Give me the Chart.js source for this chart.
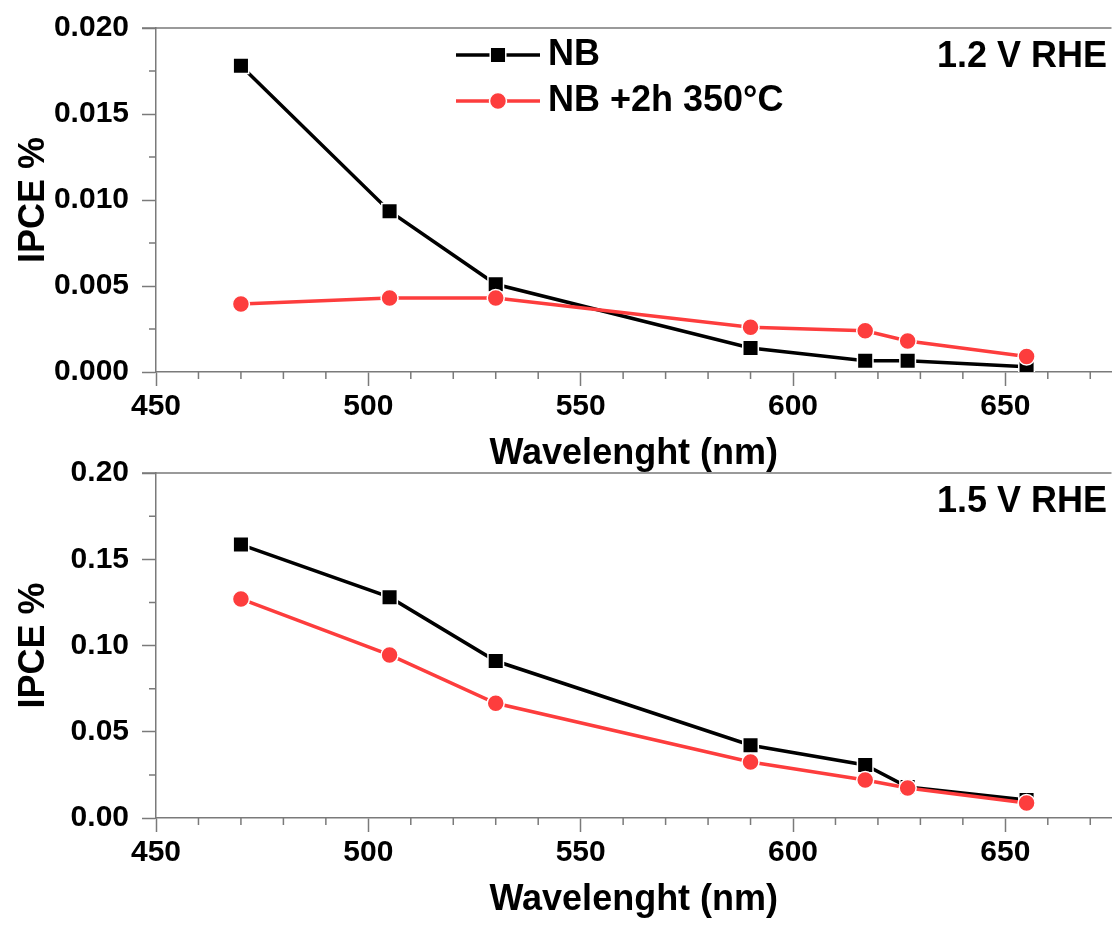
<!DOCTYPE html>
<html>
<head>
<meta charset="utf-8">
<script src="https://cdn.jsdelivr.net/npm/chart.js@4.4.0/dist/chart.umd.min.js"></script>
<style>
  html, body { margin: 0; padding: 0; background: #fff; overflow: hidden; }
  #wrap { position: relative; width: 1114px; height: 931px; overflow: hidden; }
  canvas { position: absolute; left: 0; }
  #top { top: -20px; }
  #bottom { top: 430px; }
</style>
</head>
<body>
<div id="wrap">
  <canvas id="top" width="1124" height="492"></canvas>
  <canvas id="bottom" width="1124" height="488"></canvas>
</div>
<script>
// wavelengths (nm) of the LEDs
const wavelengths = [470, 505, 530, 590, 617, 627, 655];

// IPCE % at 1.2 V RHE
const nb12 = [0.0178, 0.00935, 0.0051, 0.0014, 0.00065, 0.00065, 0.0003];
const nbAnn12 = [0.00395, 0.0043, 0.0043, 0.0026, 0.0024, 0.0018, 0.0009];

// IPCE % at 1.5 V RHE
const nb15 = [0.1585, 0.128, 0.091, 0.0422, 0.0307, 0.018, 0.0104];
const nbAnn15 = [0.127, 0.0945, 0.0665, 0.0325, 0.022, 0.0174, 0.0087];

const seriesNames = ["NB", "NB +2h 350\u00b0C"];
const xTicks = [450, 500, 550, 600, 650];
const xMinor = [460, 470, 480, 490, 510, 520, 530, 540, 560, 570, 580, 590, 610, 620, 630, 640, 660, 670];
const yTicksTop = [0, 0.005, 0.010, 0.015, 0.020];
const yMinorTop = [0.0025, 0.0075, 0.0125, 0.0175];
const yTicksBottom = [0, 0.05, 0.10, 0.15, 0.20];
const yMinorBottom = [0.025, 0.075, 0.125, 0.175];

const fam = '"Liberation Sans", Arial, sans-serif';
const tickFont = { family: fam, size: 30, weight: 'bold' };
const titleFont = { family: fam, size: 36, weight: 'bold', lineHeight: 1 };
const axisGray = '#7a7a7a';
const red = '#fd3d3d';

const toPoints = vals => wavelengths.map((w, i) => ({ x: w, y: vals[i] }));

// minor ticks, top frame line, legend and potential label
const decor = {
  id: 'decor',
  afterDraw(chart, args, opts) {
    const { ctx, chartArea: a, scales: { x, y } } = chart;
    ctx.save();
    ctx.strokeStyle = axisGray;
    ctx.lineWidth = 1.5;
    ctx.beginPath();
    ctx.moveTo(a.left - 14, a.top);
    ctx.lineTo(a.right, a.top);
    xMinor.forEach(v => {
      const px = x.getPixelForValue(v);
      ctx.moveTo(px, a.bottom);
      ctx.lineTo(px, a.bottom + 7);
    });
    opts.yMinor.forEach(v => {
      const py = y.getPixelForValue(v);
      ctx.moveTo(a.left, py);
      ctx.lineTo(a.left - 7, py);
    });
    ctx.stroke();

    ctx.fillStyle = '#000';
    ctx.font = 'bold 36px ' + fam;
    ctx.textBaseline = 'middle';
    ctx.textAlign = 'right';
    ctx.fillText(opts.label, 1107, a.top + 29);

    if (opts.legend) {
      ctx.textAlign = 'left';
      chart.data.datasets.forEach((ds, i) => {
        const ly = a.top + 27 + i * 46;
        ctx.strokeStyle = ds.borderColor;
        ctx.lineWidth = 3.5;
        ctx.beginPath();
        ctx.moveTo(456, ly);
        ctx.lineTo(540, ly);
        ctx.stroke();
        ctx.fillStyle = ds.borderColor;
        ctx.strokeStyle = '#fff';
        ctx.lineWidth = 1.5;
        Chart.helpers.drawPoint(ctx, { pointStyle: ds.pointStyle, radius: ds.pointRadius, borderWidth: 1.5, rotation: 0 }, 498, ly);
        ctx.fillStyle = '#000';
        ctx.fillText(ds.label, 548, ly);
      });
    }
    ctx.restore();
  }
};

function makeChart(id, black, reds, yMax, yTicks, yMinor, digits, padTop, label, legend) {
  return new Chart(document.getElementById(id), {
    type: 'line',
    data: {
      datasets: [
        {
          label: seriesNames[0],
          data: toPoints(black),
          borderColor: '#000',
          backgroundColor: '#000',
          borderWidth: 3.5,
          pointStyle: 'rect',
          pointRadius: 11,
          pointBorderColor: '#fff',
          pointBorderWidth: 1.5,
          order: 1,
        },
        {
          label: seriesNames[1],
          data: toPoints(reds),
          borderColor: red,
          backgroundColor: red,
          borderWidth: 3.5,
          pointStyle: 'circle',
          pointRadius: 8.5,
          pointBorderColor: '#fff',
          pointBorderWidth: 1.5,
          order: 0,
        },
      ],
    },
    options: {
      responsive: false,
      devicePixelRatio: 1,
      animation: false,
      layout: { padding: { top: padTop, right: 5, left: 0, bottom: 0 } },
      scales: {
        x: {
          type: 'linear',
          min: 450,
          max: 675,
          afterBuildTicks: s => { s.ticks = xTicks.map(v => ({ value: v })); },
          afterFit: s => { s.height = 100; },
          border: { color: axisGray, width: 1.5 },
          grid: { drawOnChartArea: false, tickLength: 14, tickColor: axisGray, tickWidth: 1.5 },
          ticks: { color: '#000', font: tickFont, padding: 3, maxRotation: 0, autoSkip: false },
          title: { display: true, text: 'Wavelenght (nm)', color: '#000', font: titleFont, padding: { top: 0, bottom: 0 } },
        },
        y: {
          min: 0,
          max: yMax,
          afterBuildTicks: s => { s.ticks = yTicks.map(v => ({ value: v })); },
          afterFit: s => { s.width = 156; },
          border: { color: axisGray, width: 1.5 },
          grid: { drawOnChartArea: false, tickLength: 14, tickColor: axisGray, tickWidth: 1.5 },
          ticks: { color: '#000', font: tickFont, padding: 13, callback: v => Number(v).toFixed(digits) },
          title: { display: true, text: 'IPCE %', color: '#000', font: titleFont, padding: { top: 16, bottom: 0 } },
        },
      },
      plugins: {
        legend: { display: false },
        tooltip: { enabled: false },
        decor: { yMinor: yMinor, label: label, legend: legend },
      },
    },
    plugins: [decor],
  });
}

makeChart('top', nb12, nbAnn12, 0.020, yTicksTop, yMinorTop, 3, 48, '1.2 V RHE', true);
makeChart('bottom', nb15, nbAnn15, 0.20, yTicksBottom, yMinorBottom, 2, 43, '1.5 V RHE', false);
</script>
</body>
</html>
